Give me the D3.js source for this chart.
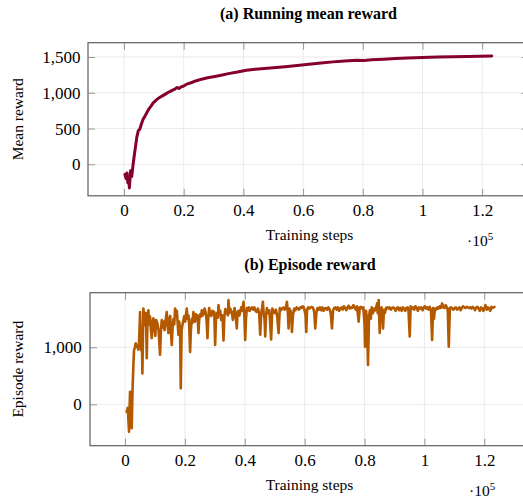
<!DOCTYPE html>
<html>
<head>
<meta charset="utf-8">
<script src="https://cdn.jsdelivr.net/npm/d3@7"></script>
<style>
  body { margin: 0; background: #fff; }
  svg { display: block; }
  text { font-family: "Liberation Serif", "DejaVu Serif Condensed", "DejaVu Serif", serif; fill: #000; }
</style>
</head>
<body>
<script>
'use strict';

// running mean reward: [training step, mean reward]
const meanReward = [
  [300, -140], [700, -200], [1000, -120], [1300, -260], [1600, -180], [1800, -330],
  [2200, -90], [2600, -170], [3000, -20], [3400, 110], [3800, 230], [4300, 380],
  [4800, 470], [5300, 490], [5800, 560], [6400, 630], [7000, 670], [7600, 720],
  [8300, 770], [9000, 810], [9800, 860], [10600, 890], [11400, 920], [12200, 940],
  [13000, 960], [14000, 985], [15000, 1010], [16000, 1030], [17000, 1050], [17800, 1075],
  [18400, 1060], [19000, 1080], [20000, 1095], [21000, 1120], [22500, 1140], [24000, 1165],
  [26000, 1190], [28000, 1210], [30000, 1225], [32500, 1245], [35000, 1268], [38000, 1290],
  [41000, 1315], [44000, 1330], [47000, 1340], [50000, 1350], [54000, 1365], [58000, 1380],
  [62000, 1398], [66000, 1415], [70000, 1432], [74000, 1444], [78000, 1455], [80500, 1452],
  [83000, 1460], [87000, 1470], [91000, 1480], [95000, 1487], [100000, 1494], [105000, 1499],
  [110000, 1504], [115000, 1508], [119000, 1511], [123200, 1514]
];

// episode reward: [training step, reward]
const episodeReward = [
  [560, -130], [900, -60], [1340, -480], [1500, -100], [1670, 220], [1900, -300], [2230, -420],
  [2500, 230], [2800, 700], [3010, 950], [3300, 1000], [3570, 1070], [3850, 1010], [4120, 1020],
  [4400, 960], [4700, 1100], [5020, 1620], [5350, 950], [5600, 1200], [5800, 540], [6130, 1680],
  [6400, 1550], [6690, 1390], [7000, 1600], [7250, 810], [7500, 1450], [7800, 1650], [8100, 1400],
  [8360, 1540], [8650, 1300], [8920, 1160], [9200, 1450], [9470, 1510], [9800, 1350], [10100, 1200],
  [10400, 1480], [10800, 1420], [11200, 1300], [11700, 870], [12000, 1300], [12270, 1480],
  [12600, 1350], [12900, 1450], [13200, 1300], [13500, 1450], [13940, 1620], [14200, 1400],
  [14490, 1250], [14800, 1500], [15100, 1550], [15300, 1300], [15610, 1040], [15900, 1350],
  [16200, 1500], [16450, 1400], [16720, 1680], [17000, 1550], [17300, 1640], [17550, 1450],
  [17830, 1220], [18100, 1450], [18400, 1300], [18620, 280], [18900, 1300], [19200, 1400],
  [19510, 1480], [19800, 1550], [20100, 1450], [20350, 1550], [20630, 1680], [20900, 1500],
  [21200, 1560], [21450, 1350], [21740, 920], [22000, 1300], [22300, 1500], [22550, 1430],
  [22850, 1620], [23100, 1540], [23400, 1450], [23700, 1580], [24000, 1520], [24250, 1560],
  [24520, 1250], [24800, 1500], [25100, 1580], [25400, 1540], [25640, 1650], [25950, 1560],
  [26300, 1600], [26600, 1680], [26900, 1620], [27200, 1500], [27540, 1160], [27800, 1500],
  [28100, 1690], [28400, 1600], [28800, 1550], [29200, 1640], [29500, 1580], [29800, 1620],
  [30100, 1040], [30400, 1550], [30700, 1600], [31000, 1520], [31220, 1740], [31500, 1600],
  [31800, 1640], [32100, 1480], [32400, 1560], [32650, 1450], [32890, 1120], [33200, 1550],
  [33500, 1670], [33800, 1600], [34100, 1640], [34350, 1560], [34560, 1830], [34850, 1600],
  [35100, 1680], [35400, 1640], [35700, 1620], [36000, 1480], [36300, 1600], [36600, 1690],
  [36900, 1560], [37350, 1330], [37600, 1620], [37900, 1640], [38200, 1560], [38500, 1630],
  [38800, 1700], [39100, 1640], [39580, 1800], [39850, 1560], [40130, 1130], [40400, 1500],
  [40700, 1690], [41000, 1650], [41300, 1700], [41600, 1640], [42000, 1680], [42400, 1700],
  [42800, 1660], [43200, 1700], [43600, 1640], [44000, 1620], [44400, 1680], [44800, 1600],
  [45150, 1220], [45500, 1600], [45800, 1700], [46040, 1800], [46300, 1600], [46600, 1500],
  [46820, 1190], [47100, 1560], [47400, 1690], [47700, 1600], [48000, 1640], [48200, 1650],
  [48800, 1140], [49200, 1680], [49600, 1640], [50000, 1600], [50400, 1660], [50800, 1560],
  [51300, 1250], [51700, 1690], [52100, 1650], [52500, 1680], [52900, 1700], [53300, 1660],
  [53700, 1690], [54080, 1800], [54400, 1600], [54620, 1330], [54900, 1680], [55200, 1650],
  [55500, 1600], [55750, 1270], [56100, 1560], [56500, 1680], [56900, 1650], [57300, 1700],
  [57700, 1680], [58100, 1660], [58500, 1700], [58900, 1690], [59300, 1720], [59640, 1710],
  [60000, 1640], [60300, 1560], [60530, 1270], [60800, 1660], [61200, 1700], [61600, 1680],
  [62000, 1700], [62400, 1710], [62800, 1690], [63200, 1620], [63540, 1330], [63900, 1600],
  [64300, 1690], [64700, 1660], [65100, 1700], [65500, 1650], [65900, 1700], [66300, 1640],
  [66700, 1680], [67100, 1690], [67500, 1660], [67900, 1700], [68300, 1670], [68700, 1600],
  [69120, 1330], [69500, 1650], [69900, 1690], [70300, 1700], [70700, 1660], [71100, 1700],
  [71500, 1640], [71900, 1680], [72300, 1700], [72700, 1660], [73100, 1720], [73500, 1690],
  [73900, 1650], [74300, 1700], [74700, 1730], [75100, 1680], [75500, 1700], [75900, 1690],
  [76300, 1740], [76700, 1700], [77100, 1660], [77500, 1720], [78030, 1450], [78400, 1700],
  [78800, 1710], [79200, 1680], [79600, 1700], [80000, 1400], [80160, 1010], [80500, 1640],
  [80800, 1500], [81160, 690], [81500, 1550], [81800, 1650], [82100, 1500], [82400, 1700],
  [82800, 1600], [83200, 1680], [83600, 1650], [83900, 1700], [84180, 1770], [84400, 1600],
  [84720, 1830], [85060, 1250], [85400, 1650], [85700, 1700], [86000, 1620], [86180, 1330],
  [86500, 1660], [86800, 1600], [87200, 1690], [87600, 1700], [88000, 1680], [88400, 1700],
  [88800, 1660], [89200, 1690], [89600, 1700], [90000, 1680], [90400, 1640], [90800, 1690],
  [91200, 1700], [91600, 1650], [92000, 1690], [92400, 1640], [92800, 1700], [93200, 1680],
  [93600, 1640], [94000, 1690], [94400, 1700], [94700, 1640], [95090, 1190], [95400, 1720],
  [95800, 1680], [96200, 1700], [96600, 1660], [97000, 1720], [97400, 1690], [97800, 1640],
  [98200, 1700], [98600, 1680], [99000, 1700], [99400, 1650], [99800, 1700], [100200, 1720],
  [100600, 1680], [101000, 1700], [101400, 1660], [101800, 1710], [102200, 1640], [102570, 1130],
  [102900, 1690], [103200, 1500], [103500, 1680], [103900, 1660], [104300, 1700], [104700, 1680],
  [105100, 1720], [105500, 1690], [105920, 1770], [106300, 1700], [106700, 1690], [107100, 1740],
  [107500, 1700], [107800, 1650], [108130, 1010], [108500, 1690], [108900, 1700], [109300, 1680],
  [109700, 1660], [110100, 1690], [110500, 1700], [110900, 1660], [111300, 1680], [111700, 1700],
  [112100, 1650], [112500, 1690], [112900, 1720], [113300, 1700], [113700, 1690], [114100, 1710],
  [114500, 1700], [114900, 1690], [115300, 1700], [115700, 1680], [116100, 1710], [116500, 1690],
  [116900, 1650], [117300, 1700], [117700, 1710], [118100, 1680], [118500, 1640], [118900, 1700],
  [119300, 1680], [119700, 1640], [120100, 1700], [120400, 1740], [120800, 1660], [121200, 1700],
  [121600, 1680], [122000, 1640], [122400, 1710], [122800, 1690], [123400, 1710]
];

const xTicks = [0, 20000, 40000, 60000, 80000, 100000, 120000];
const meanTicks = [0, 500, 1000, 1500];
const episodeTicks = [0, 1000];

const width = 523, height = 497;
const serif = '"Liberation Serif", "DejaVu Serif Condensed", "DejaVu Serif", serif';

const svg = d3.select('body').append('svg')
  .attr('width', width)
  .attr('height', height);

function drawPanel(p) {
  let x = d3.scaleLinear().domain(p.xDomain).range([p.left, p.right]);
  let y = d3.scaleLinear().domain(p.yDomain).range([p.bottom, p.top]);
  let g = svg.append('g');
  let clipId = 'clip-' + p.id;

  g.append('clipPath').attr('id', clipId)
    .append('rect')
    .attr('x', p.left).attr('y', p.top)
    .attr('width', p.right - p.left).attr('height', p.bottom - p.top);

  // grid
  g.selectAll('.gx').data(xTicks).enter().append('line')
    .attr('x1', d => x(d)).attr('x2', d => x(d))
    .attr('y1', p.top).attr('y2', p.bottom)
    .attr('stroke', '#e6e6e6').attr('stroke-width', 0.8);
  g.selectAll('.gy').data(p.yTicks).enter().append('line')
    .attr('x1', p.left).attr('x2', p.right)
    .attr('y1', d => y(d)).attr('y2', d => y(d))
    .attr('stroke', '#e6e6e6').attr('stroke-width', 0.8);

  // inward ticks on all four sides
  let tickStyle = (sel) => {
    sel.attr('font-family', null).attr('font-size', null);
    sel.select('.domain').remove();
    sel.selectAll('.tick line').attr('stroke', '#808080').attr('stroke-width', 0.8);
    sel.selectAll('.tick text')
      .style('font-family', serif)
      .style('font-size', '17px')
      .attr('fill', '#000');
  };
  g.append('g').attr('transform', 'translate(0,' + p.bottom + ')')
    .call(d3.axisBottom(x).tickValues(xTicks).tickSize(-7).tickPadding(8)
      .tickFormat(d => String(+(d / 1e5).toFixed(1))))
    .call(tickStyle);
  g.append('g').attr('transform', 'translate(0,' + p.top + ')')
    .call(d3.axisTop(x).tickValues(xTicks).tickSize(-7).tickFormat(''))
    .call(tickStyle);
  g.append('g').attr('transform', 'translate(' + p.left + ',0)')
    .call(d3.axisLeft(y).tickValues(p.yTicks).tickSize(-7).tickPadding(p.yPad)
      .tickFormat(d3.format(',')))
    .call(tickStyle);
  g.append('g').attr('transform', 'translate(' + p.right + ',0)')
    .call(d3.axisRight(y).tickValues(p.yTicks).tickSize(-7).tickFormat(''))
    .call(tickStyle);

  // data line
  let line = d3.line()
    .x(d => x(d[0]))
    .y(d => y(d[1]));
  g.append('path')
    .datum(p.data)
    .attr('clip-path', 'url(#' + clipId + ')')
    .attr('fill', 'none')
    .attr('stroke', p.color)
    .attr('stroke-width', p.lineWidth)
    .attr('stroke-linejoin', 'round')
    .attr('stroke-linecap', 'round')
    .attr('d', line);

  // frame
  g.append('rect')
    .attr('x', p.left).attr('y', p.top)
    .attr('width', p.right - p.left).attr('height', p.bottom - p.top)
    .attr('fill', 'none')
    .attr('stroke', '#5f5f5f')
    .attr('stroke-width', 1.2);

  // texts
  g.append('text')
    .attr('x', p.titleX).attr('y', p.titleY)
    .attr('text-anchor', 'middle')
    .style('font-family', serif)
    .style('font-size', '16px')
    .style('font-weight', 'bold')
    .text(p.title);
  g.append('text')
    .attr('x', 309.5).attr('y', p.bottom + 44)
    .attr('text-anchor', 'middle')
    .style('font-family', serif)
    .style('font-size', '15.5px')
    .text('Training steps');
  let sci = g.append('text')
    .attr('x', p.sciX).attr('y', p.bottom + 50)
    .style('font-family', serif)
    .style('font-size', '15.5px');
  sci.append('tspan').text('\u00b710');
  sci.append('tspan').attr('dy', -6).style('font-size', '11px').text('5');
  g.append('text')
    .attr('transform', 'translate(22.7,' + ((p.top + p.bottom) / 2) + ')rotate(-90)')
    .attr('text-anchor', 'middle')
    .style('font-family', serif)
    .style('font-size', '15.5px')
    .text(p.yLabel);
}

drawPanel({
  id: 'mean', data: meanReward, color: '#86002d', lineWidth: 3,
  left: 88, right: 528.5, top: 42.7, bottom: 195.8,
  xDomain: [-12060, 135520], yDomain: [-440, 1700], yTicks: meanTicks, yPad: 7.5,
  title: '(a) Running mean reward', titleX: 308.5, titleY: 19,
  yLabel: 'Mean reward', sciX: 467
});

drawPanel({
  id: 'episode', data: episodeReward, color: '#b35900', lineWidth: 2.6,
  left: 90, right: 530.7, top: 292.7, bottom: 445.7,
  xDomain: [-11700, 135500], yDomain: [-726, 1958], yTicks: episodeTicks, yPad: 8.3,
  title: '(b) Episode reward', titleX: 310, titleY: 270,
  yLabel: 'Episode reward', sciX: 469
});
</script>
</body>
</html>
